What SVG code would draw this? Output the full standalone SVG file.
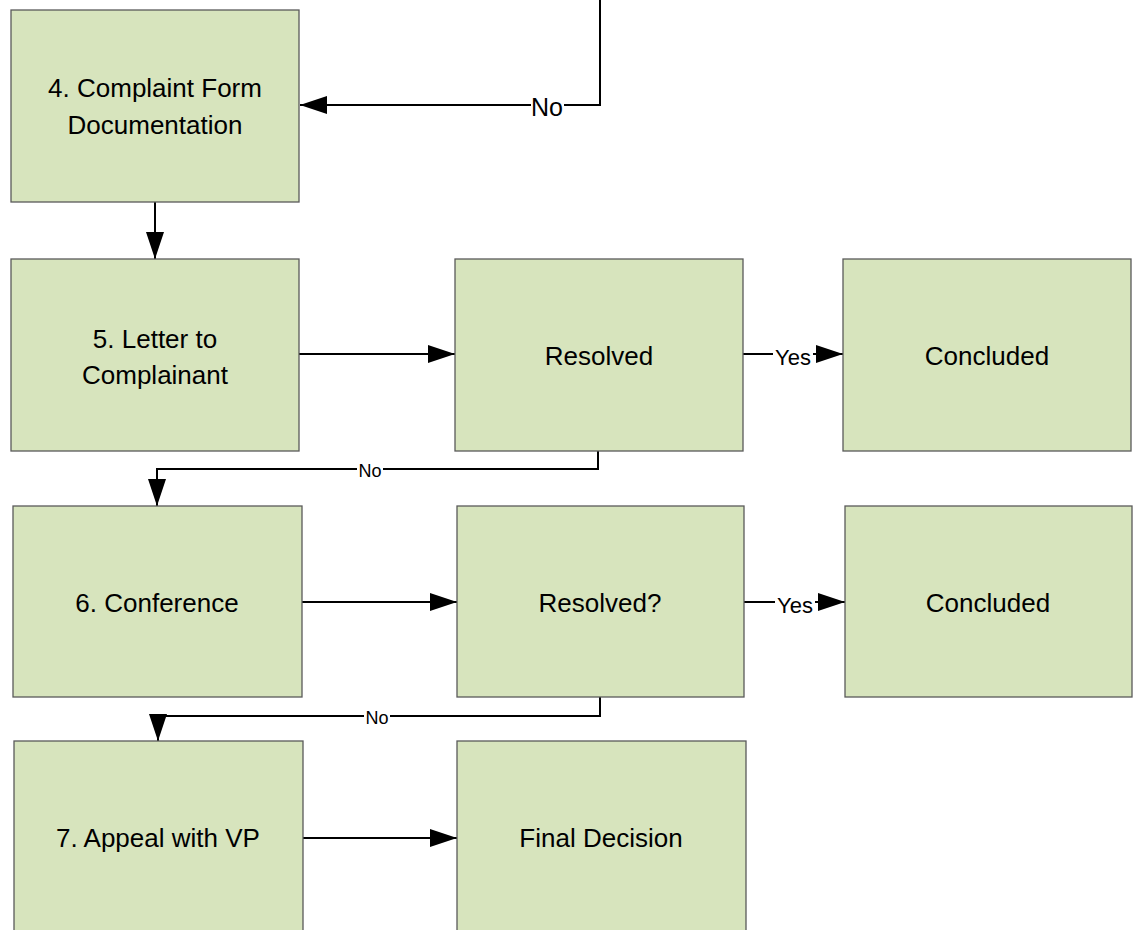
<svg xmlns="http://www.w3.org/2000/svg" width="1137" height="930" viewBox="0 0 1137 930">
  <style>
    .box { fill: #d7e4bd; stroke: #5a5a5a; stroke-width: 1.3; }
    .lbl { font-family: "Liberation Sans", Arial, sans-serif; font-size: 26px; fill: #000; text-anchor: middle; }
    .conn { fill: none; stroke: #000; stroke-width: 2; }
    .tag { font-family: "Liberation Sans", Arial, sans-serif; fill: #000; text-anchor: middle; }
    .bg { fill: #fff; }
  </style>
  <defs>
    <marker id="arr" markerUnits="userSpaceOnUse" markerWidth="28" markerHeight="18" refX="27" refY="9" orient="auto">
      <path d="M0,0 L27,9 L0,18 z" fill="#000"/>
    </marker>
  </defs>
  <rect width="1137" height="930" fill="#fff"/>

  <g id="connectors">
    <path class="conn" d="M600,0 V105 H300" marker-end="url(#arr)"/>
    <rect class="bg" x="531" y="95" width="33" height="22"/>
    <text class="tag" x="547" y="116" font-size="25">No</text>

    <path class="conn" d="M155,202 V259" marker-end="url(#arr)"/>
    <path class="conn" d="M299,354 H455" marker-end="url(#arr)"/>

    <path class="conn" d="M743,354 H843" marker-end="url(#arr)"/>
    <rect class="bg" x="773" y="344" width="40" height="22"/>
    <text class="tag" x="793" y="365" font-size="22">Yes</text>

    <path class="conn" d="M598,451 V469 H157 V506" marker-end="url(#arr)"/>
    <rect class="bg" x="357" y="461" width="26" height="17"/>
    <text class="tag" x="370" y="477" font-size="18">No</text>

    <path class="conn" d="M302,602 H457" marker-end="url(#arr)"/>

    <path class="conn" d="M744,602 H845" marker-end="url(#arr)"/>
    <rect class="bg" x="775" y="592" width="40" height="22"/>
    <text class="tag" x="795" y="613" font-size="22">Yes</text>

    <path class="conn" d="M600,697 V716 H158 V741" marker-end="url(#arr)"/>
    <rect class="bg" x="364" y="708" width="26" height="17"/>
    <text class="tag" x="377" y="724" font-size="18">No</text>

    <path class="conn" d="M303,838 H457" marker-end="url(#arr)"/>
  </g>

  <g id="n4">
    <rect class="box" x="11" y="10" width="288" height="192"/>
    <text class="lbl" x="155" y="97">4. Complaint Form</text>
    <text class="lbl" x="155" y="134">Documentation</text>
  </g>
  <g id="n5">
    <rect class="box" x="11" y="259" width="288" height="192"/>
    <text class="lbl" x="155" y="348">5. Letter to</text>
    <text class="lbl" x="155" y="384">Complainant</text>
  </g>
  <g id="resolved1">
    <rect class="box" x="455" y="259" width="288" height="192"/>
    <text class="lbl" x="599" y="365">Resolved</text>
  </g>
  <g id="concluded1">
    <rect class="box" x="843" y="259" width="288" height="192"/>
    <text class="lbl" x="987" y="365">Concluded</text>
  </g>
  <g id="n6">
    <rect class="box" x="13" y="506" width="289" height="191"/>
    <text class="lbl" x="157" y="612">6. Conference</text>
  </g>
  <g id="resolved2">
    <rect class="box" x="457" y="506" width="287" height="191"/>
    <text class="lbl" x="600" y="612">Resolved?</text>
  </g>
  <g id="concluded2">
    <rect class="box" x="845" y="506" width="287" height="191"/>
    <text class="lbl" x="988" y="612">Concluded</text>
  </g>
  <g id="n7">
    <rect class="box" x="14" y="741" width="289" height="192"/>
    <text class="lbl" x="158" y="847">7. Appeal with VP</text>
  </g>
  <g id="final">
    <rect class="box" x="457" y="741" width="289" height="192"/>
    <text class="lbl" x="601" y="847">Final Decision</text>
  </g>
</svg>
